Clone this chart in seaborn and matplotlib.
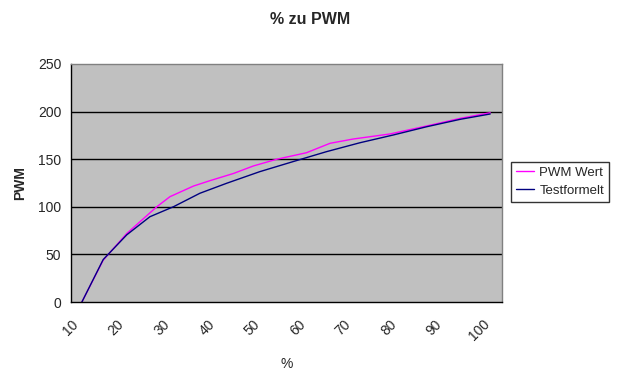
import pandas as pd
import matplotlib
matplotlib.use("Agg")
import matplotlib.pyplot as plt
import seaborn as sns

# values
pwm_x = [12.4, 17.1, 19.7, 22.3, 28.9, 31.8, 37.0, 40.6, 45.8, 50.2, 55.3,
         61.9, 67.1, 72.2, 80.3, 88.4, 95.8, 102.4]
pwm_y = [0, 44, 58, 72, 100, 110.6, 121.8, 127.4, 135, 142.9, 149.9,
         156.8, 166.7, 171.2, 176.5, 184.9, 192.9, 198.8]

test_x = [12.4, 17.1, 22.3, 27.4, 32.6, 38.4, 44.3, 51.6, 58.9, 66.3,
          73.7, 81.0, 88.4, 95.8, 102.4]
test_y = [0, 44.6, 70.6, 89.6, 100.1, 114.2, 124.7, 136.9, 147.4, 157.9,
          167.3, 175.4, 184.1, 191.9, 197.5]

x_ticks = list(range(10, 106, 5))
x_labels = [str(t) if t % 10 == 0 else "" for t in x_ticks]
y_ticks = [0, 50, 100, 150, 200, 250]

df = pd.concat([
    pd.DataFrame({"x": pwm_x, "y": pwm_y, "Serie": "PWM Wert"}),
    pd.DataFrame({"x": test_x, "y": test_y, "Serie": "Testformelt"}),
])

sns.set_style("white")
plt.rcParams["font.family"] = ["Liberation Sans", "DejaVu Sans"]

fig = plt.figure(figsize=(6.17, 3.77), dpi=100)
ax = fig.add_axes([71 / 617, 1 - 302 / 377, 431 / 617, 238 / 377])
ax.set_facecolor("#C0C0C0")

sns.lineplot(data=df, x="x", y="y", hue="Serie", sort=False,
             palette={"PWM Wert": "#FF00FF", "Testformelt": "#000080"},
             linewidth=1, ax=ax)

ax.set_xlim(10, 105)
ax.set_ylim(0, 250)
ax.set_xticks(x_ticks)
ax.set_xticklabels(x_labels, rotation=45, ha="center", va="top")
ax.set_yticks(y_ticks)
ax.tick_params(axis="both", direction="out", length=4, width=1, color="black",
               labelsize=10)
ax.tick_params(axis="x", pad=7)
ax.tick_params(axis="y", pad=3)

for v in y_ticks[1:-1]:
    ax.axhline(v, color="black", linewidth=1, zorder=1)

for side in ["left", "bottom"]:
    ax.spines[side].set_color("black")
    ax.spines[side].set_linewidth(1)
for side in ["top", "right"]:
    ax.spines[side].set_color("#808080")
    ax.spines[side].set_linewidth(1)

ax.set_xlabel("%", fontsize=10, labelpad=10)
ax.set_ylabel("PWM", fontsize=10, fontweight="bold", labelpad=8)
fig.text(310 / 617, 1 - 20 / 377, "% zu PWM", ha="center", va="center",
         fontsize=11.5, fontweight="bold")

leg = ax.legend(loc="upper left", bbox_to_anchor=(511 / 617, 1 - 162 / 377),
                bbox_transform=fig.transFigure, frameon=True, fancybox=False,
                borderaxespad=0, fontsize=9.5, handlelength=1.4,
                borderpad=0.35, labelspacing=0.45, handletextpad=0.4)
leg.get_frame().set_edgecolor("black")
leg.get_frame().set_linewidth(1)

fig.savefig("out.png", dpi=100)
